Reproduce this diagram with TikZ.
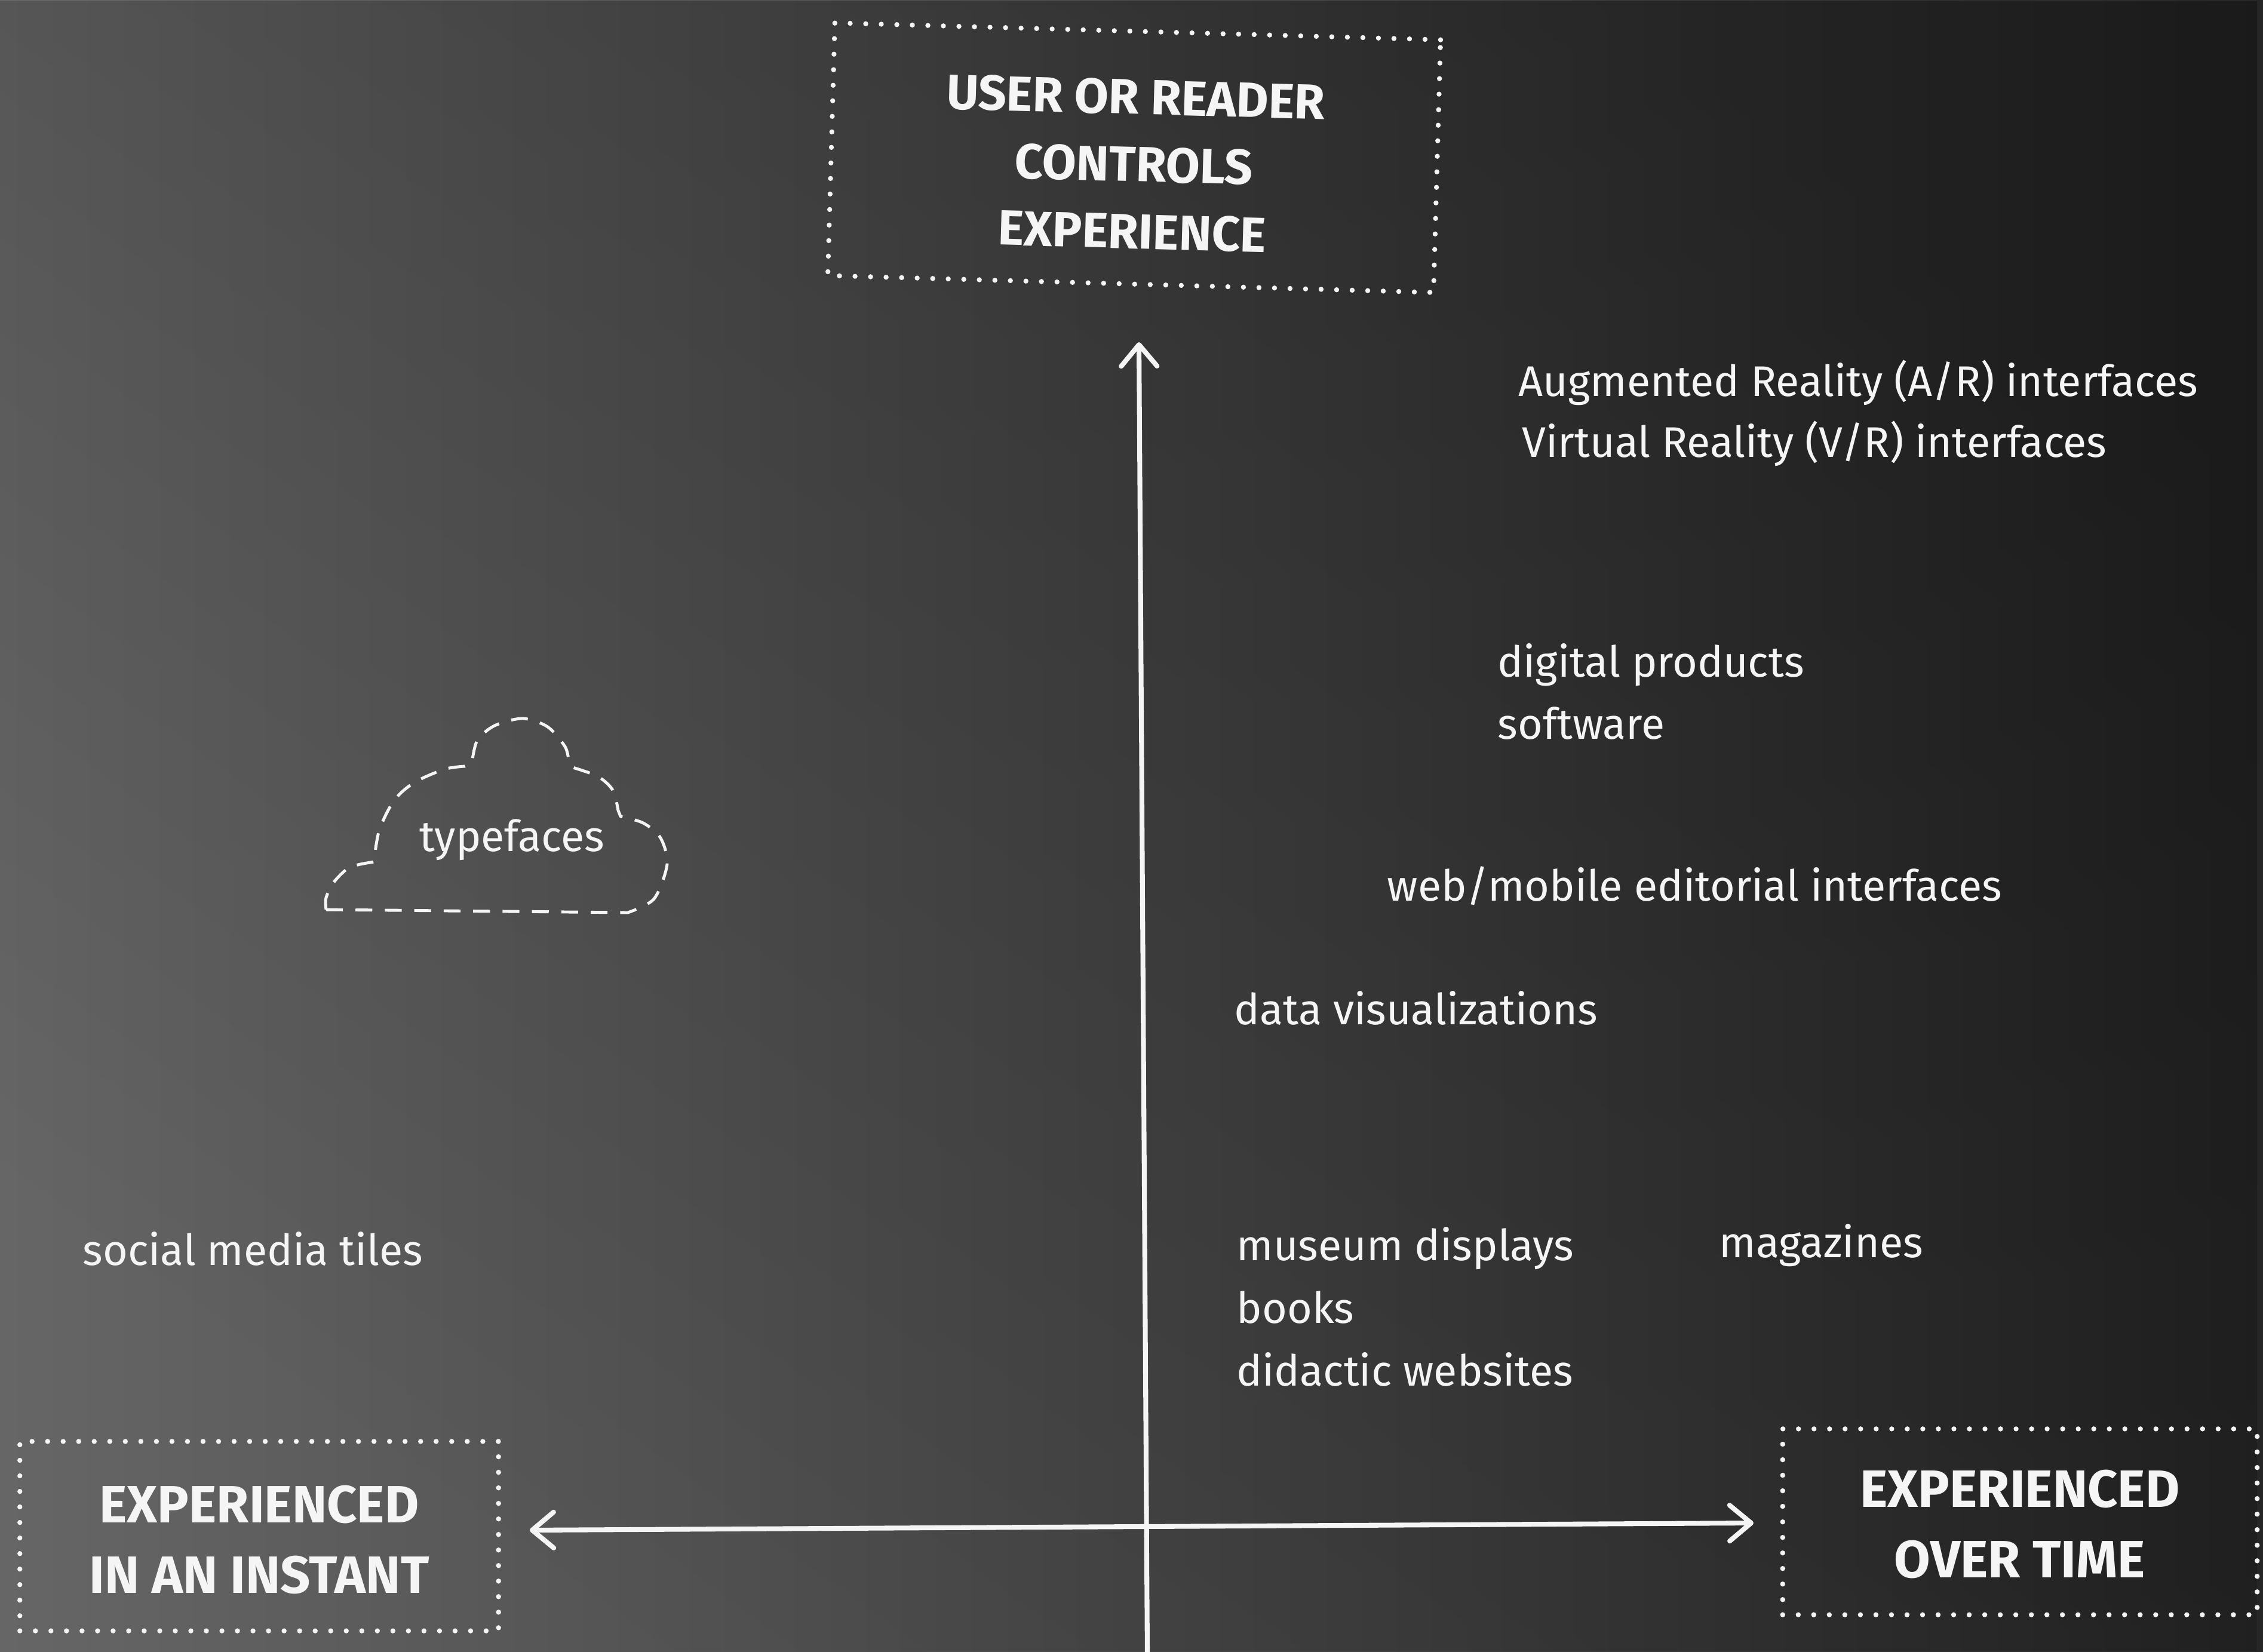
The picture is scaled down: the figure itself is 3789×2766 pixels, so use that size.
\documentclass[tikz,border=0pt]{standalone}
\usepackage{fontspec}
\setmainfont{Fira Sans}
\usepackage{color}
\usepackage{tikz}
\usetikzlibrary{arrows.meta}
\usetikzlibrary{fadings}
\definecolor{paperlight}{RGB}{102,102,102}
\definecolor{papermid}{RGB}{80,80,80}
\definecolor{paperdark}{RGB}{38,38,38}
\definecolor{chalk}{RGB}{245,245,245}
\begin{document}
\begin{tikzpicture}[x=0.01cm, y=-0.01cm,
		>={Straight Barb[length=3.6mm, width=6mm, line cap=round, line join=round]},
		axis/.style={chalk, line width=2.3pt, line cap=round, line join=round},
		dotbox/.style={draw=chalk, line width=2.4pt, line cap=round, dash pattern=on 0pt off 7.4pt, text=chalk, align=center, inner sep=0pt, font=\fontsize{25}{33.5}\selectfont\bfseries},
		item/.style={text=chalk, anchor=base west, inner sep=0pt, font=\fontsize{20.4}{24}\selectfont},
		cloudline/.style={chalk, line width=1.4pt, dash pattern=on 8pt off 6pt, line join=round}]
			\useasboundingbox (0,0) rectangle (3789,2766);
			\shade[left color=paperlight, middle color=papermid, right color=paperdark] (0,0) rectangle (3789,2766);
			\fill[black, fill opacity=0.3, path fading=south, fading angle=-45] (0,0) rectangle (3789,2766);

			\node[dotbox, rotate=-1.6, minimum width=10.14cm, minimum height=4.23cm, font=\fontsize{23.5}{32}\selectfont\bfseries] (control) at (1899,264) {\rule{0pt}{23pt}USER OR READER\\CONTROLS\\EXPERIENCE};
			\node[dotbox, minimum width=8.01cm, minimum height=3.17cm] (instant) at (434,2572) {\rule{0pt}{21pt}EXPERIENCED\\IN AN INSTANT};
			\node[dotbox, minimum width=7.94cm, minimum height=3.11cm] (overtime) at (3382,2548) {\rule{0pt}{20pt}EXPERIENCED\\OVER TIME};

			\coordinate (vtop) at (1907,573);
			\coordinate (vbot) at (1921,2766);
			\coordinate (hleft) at (887,2562);
			\coordinate (hright) at (2936,2550);
			\draw[axis, ->] (vbot) -- (vtop);
			\draw[axis, <->] (hleft) -- (hright);

			\node[item] (ar) at (2542,663) {Augmented Reality (A/R) interfaces};
			\node[item] (vr) at (2548,765) {Virtual Reality (V/R) interfaces};
			\node[item] (digital) at (2507,1133) {digital products};
			\node[item] (software) at (2507,1237) {software};
			\node[item] (webmobile) at (2322,1508) {web/mobile editorial interfaces};
			\node[item] (dataviz) at (2066,1715) {data visualizations};
			\node[item] (museum) at (2070,2110) {museum displays};
			\node[item] (books) at (2070,2215) {books};
			\node[item] (didactic) at (2070,2320) {didactic websites};
			\node[item] (magazines) at (2878,2105) {magazines};
			\node[item] (social) at (138,2118) {social media tiles};

			\draw[cloudline] (546,1523) -- (1051,1528)
				-- plot[smooth] coordinates {(1051,1528) (1095,1505) (1117,1447) (1106,1403) (1077,1378) (1039,1367)}
				-- plot[smooth] coordinates {(1035,1357) (1026,1323) (1001,1300) (959,1285)}
				-- plot[smooth] coordinates {(952,1273) (946,1250) (917,1217) (875,1203) (828,1215) (799,1240) (790,1278)}
				-- plot[smooth] coordinates {(778,1283) (744,1288) (694,1310) (660,1340) (635,1390) (626,1443)}
				-- plot[smooth] coordinates {(614,1445) (584,1453) (559,1477) (546,1503) (546,1523)};
			\node[item, anchor=base] (typefaces) at (857,1425) {typefaces};
		\end{tikzpicture}
\end{document}
